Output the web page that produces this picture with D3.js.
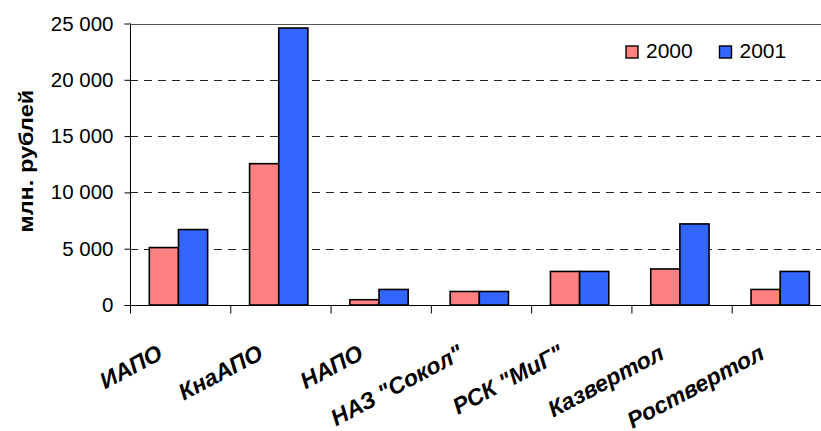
<!DOCTYPE html>
<html>
<head>
    <meta charset='utf-8'>
    <title>Grouped bars</title>
    <script src='https://cdn.jsdelivr.net/npm/d3@7/dist/d3.min.js'></script>
    <style>
        body { margin: 0; background: #fff; }
        text { font-family: 'Liberation Sans', Arial, sans-serif; }
    </style>
</head>
<body>
    <svg width='821' height='431'></svg>
    <script>
        const categories = ['ИАПО', 'КнаАПО', 'НАПО', 'НАЗ "Сокол"', 'РСК "МиГ"', 'Казвертол', 'Роствертол']
        const series = ['2000', '2001']
        const values2000 = [5100, 12550, 470, 1200, 2980, 3200, 1380]
        const values2001 = [6700, 24600, 1380, 1200, 2980, 7200, 2980]
        const yTicks = [0, 5000, 10000, 15000, 20000, 25000]
        const colors = ['#FF8080', '#3366FF']

        const svg = d3.select('svg')
        const m = { left: 130, top: 23.5, right: 832, bottom: 305 }

        const x = d3.scaleBand().domain(categories).range([m.left, m.right])
        const x1 = d3.scaleBand().domain(series).range([0, x.bandwidth()])
            .paddingInner(0).paddingOuter(0.72).align(0.46)
        const y = d3.scaleLinear().domain([0, 25000]).range([m.bottom, m.top])

        const fmt = v => d3.format(',')(v).replace(/,/g, ' ')

        // линии сетки
        svg.append('g').selectAll('line')
            .data(yTicks.filter(d => d > 0))
            .join('line')
            .attr('x1', m.left).attr('x2', m.right)
            .attr('y1', d => Math.round(y(d)) + 0.5).attr('y2', d => Math.round(y(d)) + 0.5)
            .attr('stroke', d => d === 25000 ? '#555' : '#222')
            .attr('stroke-dasharray', d => d === 25000 ? null : '8,6')

        // столбцы
        const rows = categories.map((c, i) => ({ c, vals: [values2000[i], values2001[i]] }))
        const groups = svg.append('g').selectAll('g')
            .data(rows).join('g')
            .attr('transform', d => `translate(${x(d.c)},0)`)
        groups.selectAll('rect')
            .data(d => d.vals.map((v, j) => ({ key: series[j], v, j })))
            .join('rect')
            .attr('x', d => x1(d.key))
            .attr('width', x1.bandwidth())
            .attr('y', d => y(d.v))
            .attr('height', d => y(0) - y(d.v))
            .attr('fill', d => colors[d.j])
            .attr('stroke', '#000')
            .attr('stroke-width', 1.6)

        // ось Y
        const yAxis = svg.append('g')
            .attr('transform', `translate(${m.left + 0.5},0)`)
            .call(d3.axisLeft(y).tickValues(yTicks).tickFormat(fmt).tickSize(6).tickPadding(11))
        yAxis.select('.domain').attr('stroke', '#000').attr('d', `M0,${m.top}V${m.bottom}`)
        yAxis.selectAll('text').attr('font-size', 20.5).attr('fill', '#000')
            .attr('font-family', "'Liberation Sans', Arial, sans-serif")

        // ось X
        const xAxis = svg.append('g')
            .attr('transform', `translate(0,${m.bottom + 0.5})`)
        xAxis.append('line').attr('x1', m.left).attr('x2', m.right).attr('stroke', '#000')
        xAxis.selectAll('.tk')
            .data(d3.range(categories.length + 1))
            .join('line')
            .attr('x1', i => m.left + i * x.step() + 0.5).attr('x2', i => m.left + i * x.step() + 0.5)
            .attr('y1', 0).attr('y2', 8)
            .attr('stroke', '#000')

        svg.append('g').selectAll('text')
            .data(categories).join('text')
            .attr('transform', d => `translate(${x(d) + x.bandwidth() / 2 - 16},${m.bottom + 53}) rotate(-28)`)
            .attr('text-anchor', 'end')
            .attr('font-size', 23)
            .attr('font-weight', 'bold')
            .attr('font-style', 'italic')
            .text(d => d)

        // подпись оси Y
        svg.append('text')
            .attr('transform', `translate(33,${(m.top + m.bottom) / 2 - 3}) rotate(-90)`)
            .attr('text-anchor', 'middle')
            .attr('font-size', 21)
            .attr('font-weight', 'bold')
            .attr('textLength', 143)
            .attr('lengthAdjust', 'spacingAndGlyphs')
            .text('млн. рублей')

        // легенда
        const legend = svg.append('g').selectAll('g')
            .data(series).join('g')
            .attr('transform', (d, i) => `translate(${626 + i * 93.5},46)`)
        legend.append('rect')
            .attr('width', 12).attr('height', 12)
            .attr('fill', (d, i) => colors[i])
            .attr('stroke', '#000').attr('stroke-width', 1.4)
        legend.append('text')
            .attr('x', 20).attr('y', 11.5)
            .attr('font-size', 21)
            .text(d => d)
    </script>
</body>
</html>
